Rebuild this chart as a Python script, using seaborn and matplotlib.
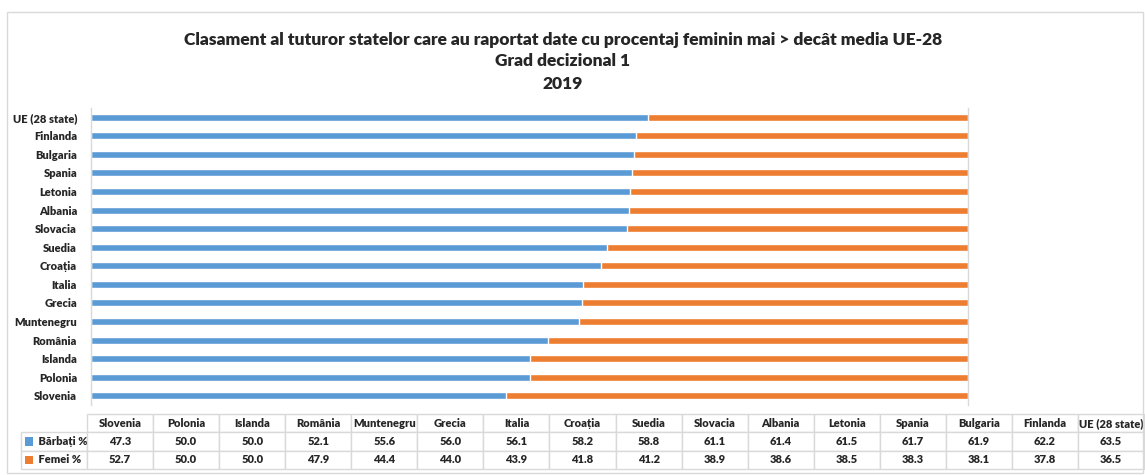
import numpy as np
import pandas as pd
import matplotlib
matplotlib.use("Agg")
import matplotlib.pyplot as plt
from matplotlib.patches import Rectangle
from matplotlib.table import Table
import seaborn as sns

# Data (table order, left to right)
countries = ["Slovenia", "Polonia", "Islanda", "România", "Muntenegru", "Grecia",
             "Italia", "Croația", "Suedia", "Slovacia", "Albania", "Letonia",
             "Spania", "Bulgaria", "Finlanda", "UE (28 state)"]
barbati = [47.3, 50.0, 50.0, 52.1, 55.6, 56.0, 56.1, 58.2, 58.8, 61.1, 61.4,
           61.5, 61.7, 61.9, 62.2, 63.5]
femei = [52.7, 50.0, 50.0, 47.9, 44.4, 44.0, 43.9, 41.8, 41.2, 38.9, 38.6,
         38.5, 38.3, 38.1, 37.8, 36.5]
series_labels = ["Bărbați %", "Femei %"]

BLUE = "#5b9bd5"
ORANGE = "#ed7d31"
GRID = "#d9d9d9"
WEIGHT = "heavy"

sns.set_style("white")
plt.rcParams['font.family'] = ['Lato', 'DejaVu Sans']

df = pd.DataFrame({"tara": countries, "barbati": barbati, "femei": femei})
df["total"] = df["barbati"] + df["femei"]
order = countries[::-1]  # top to bottom

fig = plt.figure(figsize=(11.45, 4.75), dpi=100)
W, H = 1145, 475

# outer chart border
fig.patches.append(Rectangle((7 / W, 1 - 473 / H), 1136 / W, 461 / H,
                             transform=fig.transFigure, fill=False,
                             edgecolor=GRID, linewidth=1))

ax = fig.add_axes([91 / W, 1 - 405 / H, (968 - 91) / W, (405 - 108) / H])
sns.barplot(data=df, y="tara", x="total", order=order, color=ORANGE,
            orient="h", width=0.38, ax=ax, saturation=1)
sns.barplot(data=df, y="tara", x="barbati", order=order, color=BLUE,
            orient="h", width=0.38, ax=ax, saturation=1)
ax.set_xlim(0, 100)
ax.set_xlabel("")
ax.set_ylabel("")
ax.set_xticks([])
ax.tick_params(axis="y", length=0, pad=10)
for lbl in ax.get_yticklabels():
    lbl.set_fontweight(WEIGHT)
    lbl.set_fontsize(8)
for side in ["top", "bottom"]:
    ax.spines[side].set_visible(False)
for side in ["left", "right"]:
    ax.spines[side].set_color(GRID)
    ax.spines[side].set_linewidth(1)

# title
title_lines = ["Clasament al tuturor statelor care au raportat date cu procentaj feminin mai > decât media UE-28",
               "Grad decizional 1", "2019"]
for txt, y in zip(title_lines, [40, 61, 84]):
    fig.text(563 / W, 1 - y / H, txt, ha="center", va="center",
             fontsize=12.5, fontweight=WEIGHT)

# data table (17 equal columns, first one for the series names)
tax = fig.add_axes([21 / W, 1 - 469 / H, (1144 - 21) / W, (469 - 414) / H])
tax.axis("off")
tbl = Table(tax, bbox=[0, 0, 1, 1])
ncol = len(countries) + 1
rows = [[""] + countries,
        ["    " + series_labels[0]] + [f"{v:.1f}" for v in barbati],
        ["    " + series_labels[1]] + [f"{v:.1f}" for v in femei]]
for r, row in enumerate(rows):
    for c, txt in enumerate(row):
        loc = "left" if c == 0 else "center"
        cell = tbl.add_cell(r, c, width=1 / ncol, height=1 / 3, text=txt, loc=loc)
        cell.set_edgecolor(GRID)
        cell.set_linewidth(1)
        cell.get_text().set_fontsize(8)
        cell.get_text().set_fontweight(WEIGHT)
        if r == 0 and c == 0:
            cell.visible_edges = ""
tbl.auto_set_font_size(False)
tax.add_table(tbl)

# colored legend keys in the row-label cells
for i, col in enumerate([BLUE, ORANGE]):
    yc = 1 - (i + 1.5) / 3
    tax.add_patch(Rectangle((4 / 1123, yc - 0.075), 8 / 1123, 0.15,
                            transform=tax.transAxes, facecolor=col,
                            edgecolor="none", clip_on=False))

fig.savefig("out.png", dpi=100)
